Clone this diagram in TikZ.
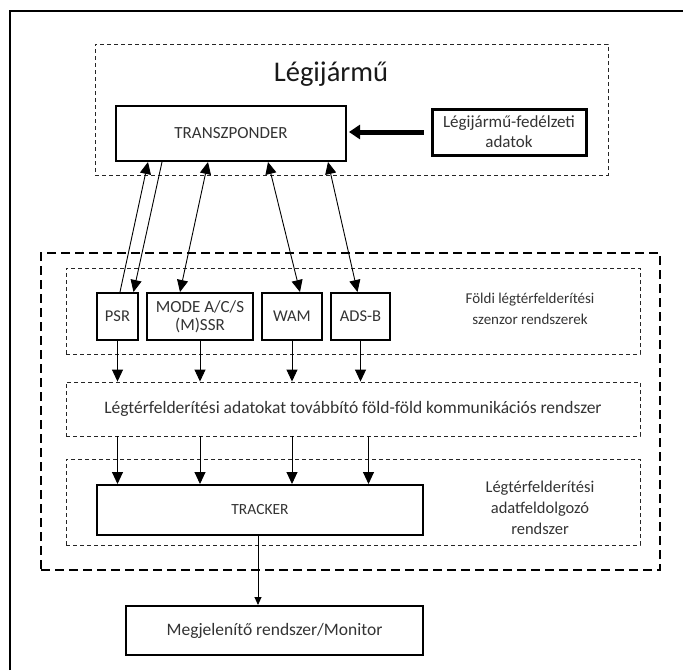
\documentclass[tikz,border=0pt]{standalone}
\usepackage{fontspec}
\setmainfont{Carlito}
\usetikzlibrary{positioning, arrows.meta}

\begin{document}
\begin{tikzpicture}[x=1pt, y=-1pt,
                >={Triangle[length=12pt,width=11pt]},
                box/.style={draw=black, line width=2pt, inner sep=0pt, align=center, text=black!80, font=\fontsize{16.5}{19}\selectfont},
                thinbox/.style={draw=black!85, line width=0.9pt, dash pattern=on 4pt off 3pt, inner sep=0pt},
                groundbox/.style={draw=black, line width=1.6pt, dash pattern=on 9pt off 5pt, inner sep=0pt},
                desc/.style={align=center, text=black!80, font=\fontsize{16}{20}\selectfont},
                link/.style={line width=0.9pt}
                ]
                \useasboundingbox (0,0) rectangle (683,670);
                \draw[line width=2pt] (10,670) -- (10,11) -- (683,11);

                % Nodes
                \node[thinbox, minimum width=513pt, minimum height=131pt] (air) at (351.5,109.5) {};
                \node[desc, font=\fontsize{28.5}{32}\selectfont, text=black!90] (title) at (331,74) {Légijármű};
                \node[box, minimum width=230pt, minimum height=55pt, font=\fontsize{17}{20}\selectfont] (tr) at (231,133.5) {TRANSZPONDER};
                \node[box, line width=3pt, minimum width=154pt, minimum height=46pt, font=\fontsize{17}{20}\selectfont] (data) at (509,132) {Légijármű-fedélzeti\\adatok};

                \node[groundbox, minimum width=619pt, minimum height=317pt] (ground) at (350.5,411.5) {};
                \node[thinbox, minimum width=574pt, minimum height=86pt] (sens) at (353,311) {};
                \node[box, minimum width=41pt, minimum height=47pt] (psr) at (117.5,316.5) {PSR};
                \node[box, minimum width=106pt, minimum height=47pt, font=\fontsize{17}{18}\selectfont] (mode) at (200,316.5) {MODE A/C/S\\(M)SSR};
                \node[box, minimum width=60pt, minimum height=47pt] (wam) at (292,316.5) {WAM};
                \node[box, minimum width=59pt, minimum height=47pt] (adsb) at (360.5,316.5) {ADS-B};
                \node[desc, font=\fontsize{15}{21}\selectfont] (senstext) at (530,309) {Földi légtérfelderítési\\szenzor rendszerek};

                \node[thinbox, minimum width=574pt, minimum height=54pt, desc, font=\fontsize{17.5}{20}\selectfont] (comm) at (353,409) {Légtérfelderítési adatokat továbbító föld-föld kommunikációs rendszer};

                \node[thinbox, minimum width=574pt, minimum height=86pt] (proc) at (353,502) {};
                \node[box, minimum width=326pt, minimum height=50pt, font=\fontsize{15.5}{18}\selectfont] (trk) at (260,510) {TRACKER};
                \node[desc, font=\fontsize{16.5}{21}\selectfont] (proctext) at (540,508) {Légtérfelderítési\\adatfeldolgozó\\rendszer};

                \node[box, minimum width=297pt, minimum height=49pt, font=\fontsize{17.5}{20}\selectfont] (mon) at (274.5,630.5) {Megjelenítő rendszer/Monitor};

                % Paths
                \draw[->, line width=5pt, >={Triangle[length=11pt,width=14pt]}, shorten <=7pt, shorten >=2pt]
                    (data.west) -- (data.west -| tr.east);
                \path[link]
                    ([xshift=2.5pt]psr.north) edge[->] ([xshift=-83pt]tr.south)
                    ([xshift=-69pt]tr.south) edge[->] ([xshift=16pt]psr.north)
                    ([xshift=-23pt]tr.south) edge[<->] ([xshift=-20pt]mode.north)
                    ([xshift=37pt]tr.south) edge[<->] ([xshift=8pt]wam.north)
                    ([xshift=97pt]tr.south) edge[<->] ([xshift=-3pt]adsb.north);
                \path[link, ->]
                    (psr.south) edge (psr.south |- comm.north)
                    (mode.south) edge (mode.south |- comm.north)
                    (wam.south) edge (wam.south |- comm.north)
                    (adsb.south) edge (adsb.south |- comm.north)
                    (psr.south |- comm.south) edge (psr.south |- trk.north)
                    (mode.south |- comm.south) edge (mode.south |- trk.north)
                    (wam.south |- comm.south) edge (wam.south |- trk.north)
                    ([xshift=8pt]adsb.south |- comm.south) edge ([xshift=8pt]adsb.south |- trk.north);
                \draw[link, ->, >={Triangle[length=8pt,width=7pt]}]
                    ([xshift=-2pt]trk.south) -- ([xshift=-2pt]trk.south |- mon.north);
\end{tikzpicture}
\end{document}
